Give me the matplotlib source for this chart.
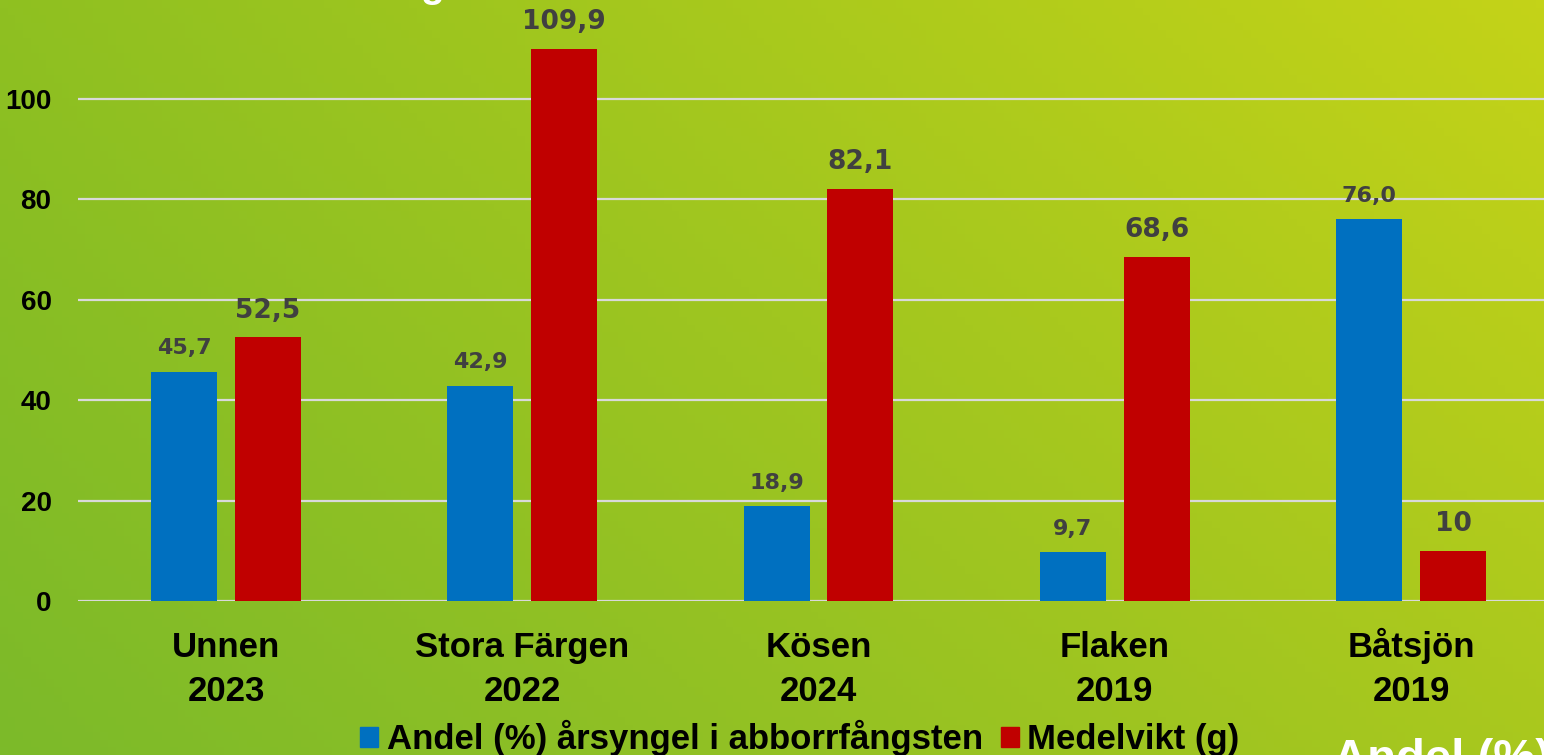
import numpy as np
import matplotlib
matplotlib.use("Agg")
import matplotlib.pyplot as plt
from matplotlib.patches import Patch

# data
lakes = ["Unnen", "Stora Färgen", "Kösen", "Flaken", "Båtsjön"]
years = ["2023", "2022", "2024", "2019", "2019"]
andel = [45.7, 42.9, 18.9, 9.7, 76.0]
medelvikt = [52.5, 109.9, 82.1, 68.6, 10.0]
andel_labels = ["45,7", "42,9", "18,9", "9,7", "76,0"]
vikt_labels = ["52,5", "109,9", "82,1", "68,6", "10"]
yticks = [0, 20, 40, 60, 80, 100]

BLUE = "#0070c0"
RED = "#c00000"
LABEL = "#404040"
SANS = "Liberation Sans"

W, H = 1544, 755
fig = plt.figure(figsize=(W / 100, H / 100), dpi=100)

# green gradient background
bg = fig.add_axes([0, 0, 1, 1])
tl = np.array([0x8f, 0xc0, 0x21]) / 255
tr = np.array([0xc4, 0xd3, 0x18]) / 255
bl = np.array([0x7c, 0xba, 0x2a]) / 255
br = np.array([0xa9, 0xc8, 0x1e]) / 255
u = np.linspace(0, 1, 200)[None, :, None]
v = np.linspace(0, 1, 100)[:, None, None]
grad = (1 - v) * ((1 - u) * tl + u * tr) + v * ((1 - u) * bl + u * br)
bg.imshow(grad, aspect="auto", extent=[0, 1, 0, 1])
bg.set_axis_off()

# main axes: 0 at y=601px, 100 at y=99px, first group centre at x=226px
px_per_unit = (601 - 99) / 100
spacing = 296.25
x0 = 78
ax = fig.add_axes([x0 / W, (H - 601) / H, (W - x0) / W, 601 / H])
ax.patch.set_alpha(0)
ax.set_xlim((x0 - 226) / spacing, (W - 226) / spacing)
ax.set_ylim(0, 601 / px_per_unit)

x = np.arange(len(lakes))
bw = 66 / spacing
off = 42 / spacing
b1 = ax.bar(x - off, andel, bw, color=BLUE, zorder=3)
b2 = ax.bar(x + off, medelvikt, bw, color=RED, zorder=3)

for rect, txt in zip(b1, andel_labels):
    ax.annotate(txt, (rect.get_x() + rect.get_width() / 2, rect.get_height()),
                xytext=(0, 9.5), textcoords="offset points", ha="center", va="bottom",
                fontsize=16, fontweight="bold", color=LABEL, family="DejaVu Sans")
for rect, txt in zip(b2, vikt_labels):
    ax.annotate(txt, (rect.get_x() + rect.get_width() / 2, rect.get_height()),
                xytext=(0, 10), textcoords="offset points", ha="center", va="bottom",
                fontsize=19, fontweight="bold", color=LABEL, family="DejaVu Sans")

ax.set_yticks(yticks)
ax.set_yticklabels([str(t) for t in yticks], fontsize=20, fontweight="bold", family=SANS)
ax.tick_params(axis="y", length=0, pad=19)
ax.set_xticks([])
ax.grid(axis="y", color="#d9d9d9", linewidth=1.6, zorder=1)
for s in ax.spines.values():
    s.set_visible(False)

# two-line category labels, same baselines for every group
trans = ax.get_xaxis_transform()
for xi, name, yr in zip(x, lakes, years):
    ax.text(xi, -(657 - 601) / 601, name, transform=trans, ha="center", va="baseline",
            fontsize=25, fontweight="bold", family=SANS, clip_on=False)
    ax.text(xi, -(701 - 601) / 601, yr, transform=trans, ha="center", va="baseline",
            fontsize=25, fontweight="bold", family=SANS, clip_on=False)

handles = [Patch(color=BLUE, label="Andel (%) årsyngel i abborrfångsten"),
           Patch(color=RED, label="Medelvikt (g)")]
fig.legend(handles=handles, loc="center", bbox_to_anchor=(800 / W, 17 / H), ncol=2,
           frameon=False, handlelength=0.52, handleheight=0.52, handletextpad=0.25,
           columnspacing=0.5, prop={"family": SANS, "weight": "bold", "size": 25})

# text cut off by the picture edges
fig.text(1333 / W, (H - 738) / H, "Andel (%)", color="white", fontsize=34,
         fontweight="bold", family=SANS, ha="left", va="top")
fig.text(420 / W, 1 + 3 / H, "g", color="white", fontsize=28,
         fontweight="bold", family=SANS, ha="left", va="baseline")

fig.savefig("out.png", dpi=100)
